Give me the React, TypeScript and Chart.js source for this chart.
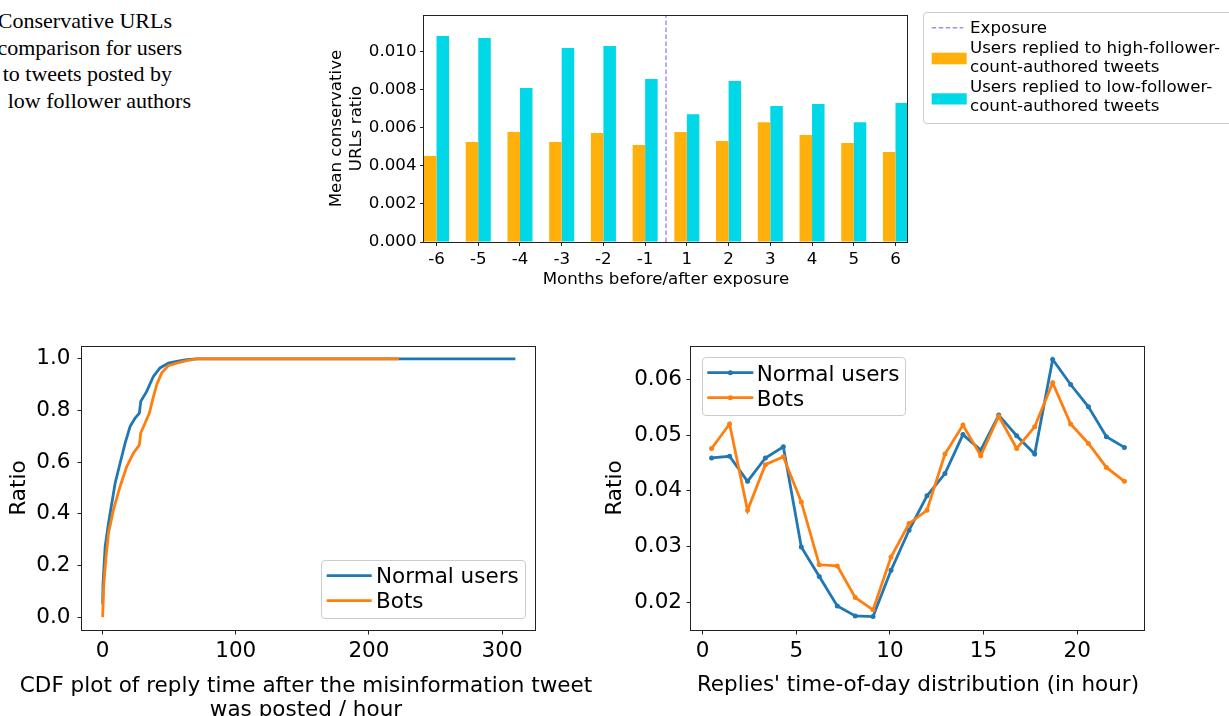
import React, { useEffect, useRef } from 'react';
import { Chart, registerables } from 'chart.js';

Chart.register(...registerables);

// ---------------- data ----------------
const months = ['-6', '-5', '-4', '-3', '-2', '-1', '1', '2', '3', '4', '5', '6'];
const highFollowerRatio = [0.00452, 0.00525, 0.00578, 0.00525, 0.00573, 0.0051, 0.00578, 0.00531, 0.0063, 0.00562, 0.0052, 0.00473];
const lowFollowerRatio = [0.01082, 0.01072, 0.00809, 0.01019, 0.0103, 0.00856, 0.00672, 0.00846, 0.00715, 0.00725, 0.0063, 0.0073];
const exposurePosition = 5.5;
const barSeriesLabels = ['Exposure', 'Users replied to high-follower-count-authored tweets', 'Users replied to low-follower-count-authored tweets'];

const cdfNormalHours = [0, 0.3, 1.9, 4.4, 6.9, 9.4, 13.1, 16.9, 20.6, 24.4, 27.6, 28.6, 33.1, 38.1, 43.1, 49.4, 55.6, 63.1, 70.7, 310];
const cdfNormalRatio = [0.05, 0.13, 0.273, 0.364, 0.441, 0.519, 0.596, 0.674, 0.738, 0.771, 0.79, 0.835, 0.874, 0.932, 0.965, 0.984, 0.99, 0.997, 1.0, 1.0];
const cdfBotsHours = [0, 0.9, 2.6, 4.4, 8.1, 13.1, 18.1, 23.1, 27.6, 28.6, 31.9, 35.1, 37.6, 40.6, 44.4, 49.4, 55.6, 63.1, 70.7, 222.5];
const cdfBotsRatio = [0, 0.13, 0.234, 0.325, 0.415, 0.506, 0.583, 0.635, 0.667, 0.713, 0.752, 0.79, 0.842, 0.9, 0.946, 0.974, 0.984, 0.993, 1.0, 1.0];
const cdfTitleLines = ['CDF plot of reply time after the misinformation tweet', 'was posted / hour'];

const hourBins = [0.48, 1.44, 2.4, 3.35, 4.31, 5.27, 6.23, 7.19, 8.15, 9.1, 10.06, 11.02, 11.98, 12.94, 13.9, 14.85, 15.81, 16.77, 17.73, 18.69, 19.65, 20.6, 21.56, 22.52];
const todNormal = [0.0459, 0.0462, 0.0417, 0.0459, 0.0479, 0.0299, 0.0246, 0.0193, 0.0175, 0.0174, 0.0257, 0.0329, 0.0391, 0.0431, 0.0501, 0.0473, 0.0536, 0.0499, 0.0466, 0.0636, 0.0591, 0.0551, 0.0497, 0.0478];
const todBots = [0.0476, 0.052, 0.0365, 0.0447, 0.0461, 0.038, 0.0267, 0.0265, 0.0208, 0.0186, 0.0281, 0.0341, 0.0365, 0.0466, 0.0518, 0.0463, 0.0534, 0.0476, 0.0515, 0.0594, 0.052, 0.0485, 0.0442, 0.0417];
const lineSeriesLabels = ['Normal users', 'Bots'];

const captionLines = ['Conservative URLs', 'comparison for users', 'to tweets posted by', 'low follower authors'];

// ---------------- styles ----------------
const SANS = 'DejaVu Sans';
const SERIF = 'Liberation Serif';
const TOP_FONT = 16.67;
const BOTTOM_FONT = 21.5;
const BLUE = '#1f77b4';
const ORANGE = '#ff7f0e';
const BAR_ORANGE = '#ffb00b';
const BAR_CYAN = '#00d7e7';
const EXPOSURE_COLOR = '#9e90f4';
const AXIS_COLOR = '#222222';

const BAR_Y_MAX = 0.01193;

const framePlugin = {
  id: 'frame',
  afterDatasetsDraw(chart: any) {
    const { ctx, chartArea: a } = chart;
    ctx.save();
    ctx.strokeStyle = AXIS_COLOR;
    ctx.lineWidth = 1;
    const l = Math.round(a.left) - 0.5;
    const t = Math.round(a.top) + 0.5;
    const r = Math.round(a.right) - 0.5;
    const b = Math.round(a.bottom) + 0.5;
    ctx.strokeRect(l, t, r - l, b - t);
    ctx.restore();
  },
};

const tickGrid = (len: number) => ({
  offset: false,
  drawOnChartArea: false,
  drawTicks: true,
  tickLength: len,
  color: AXIS_COLOR,
  lineWidth: 1,
});

function barConfig(): any {
  const font = { family: SANS, size: TOP_FONT };
  return {
    type: 'bar',
    data: {
      datasets: [
        {
          type: 'line',
          label: barSeriesLabels[0],
          data: [
            { x: exposurePosition, y: 0 },
            { x: exposurePosition, y: BAR_Y_MAX },
          ],
          borderColor: EXPOSURE_COLOR,
          borderWidth: 1.5,
          borderDash: [4.5, 2.5],
          pointRadius: 0,
          order: 0,
        },
        {
          label: barSeriesLabels[1],
          data: months.map((_, i) => ({ x: i, y: highFollowerRatio[i] })),
          backgroundColor: BAR_ORANGE,
          borderWidth: 0,
          categoryPercentage: 0.6,
          barPercentage: 1,
          order: 1,
        },
        {
          label: barSeriesLabels[2],
          data: months.map((_, i) => ({ x: i, y: lowFollowerRatio[i] })),
          backgroundColor: BAR_CYAN,
          borderWidth: 0,
          categoryPercentage: 0.6,
          barPercentage: 1,
          order: 1,
        },
      ],
    },
    options: {
      responsive: false,
      animation: false,
      devicePixelRatio: 1,
      layout: { padding: { left: 0, right: 12, top: 15, bottom: 0 } },
      plugins: { legend: { display: false }, tooltip: { enabled: false } },
      scales: {
        x: {
          type: 'linear',
          min: -0.3,
          max: 11.3,
          offset: false,
          grid: tickGrid(4),
          border: { display: false },
          ticks: {
            stepSize: 1,
            includeBounds: false,
            autoSkip: false,
            maxRotation: 0,
            padding: 4,
            color: '#000',
            font,
            callback: (v: any) => months[Math.round(Number(v))] ?? '',
          },
          title: {
            display: true,
            text: 'Months before/after exposure',
            color: '#000',
            font: { ...font, lineHeight: 1.2 },
            padding: { top: 0, bottom: 10 },
          },
          afterFit: (s: any) => {
            s.height = 58;
          },
        },
        y: {
          min: 0,
          max: BAR_Y_MAX,
          grid: tickGrid(4),
          border: { display: false },
          ticks: {
            stepSize: 0.002,
            includeBounds: false,
            padding: 3.5,
            color: '#000',
            font,
            callback: (v: any) => Number(v).toFixed(3),
          },
          title: {
            display: true,
            text: ['Mean conservative', 'URLs ratio'],
            color: '#000',
            font: { ...font, lineHeight: 1.17 },
            padding: { top: 27, bottom: 0 },
          },
          afterFit: (s: any) => {
            s.width = 124;
          },
        },
      },
    },
    plugins: [framePlugin],
  };
}

function cdfConfig(): any {
  const font = { family: SANS, size: BOTTOM_FONT };
  return {
    type: 'line',
    data: {
      datasets: [
        {
          label: lineSeriesLabels[0],
          data: cdfNormalHours.map((h, i) => ({ x: h, y: cdfNormalRatio[i] })),
          borderColor: BLUE,
          borderWidth: 2.8,
          pointRadius: 0,
          tension: 0,
          fill: false,
          order: 2,
        },
        {
          label: lineSeriesLabels[1],
          data: cdfBotsHours.map((h, i) => ({ x: h, y: cdfBotsRatio[i] })),
          borderColor: ORANGE,
          borderWidth: 2.8,
          pointRadius: 0,
          tension: 0,
          fill: false,
          order: 1,
        },
      ],
    },
    options: {
      responsive: false,
      animation: false,
      devicePixelRatio: 1,
      layout: { padding: { left: 0, right: 24, top: 26, bottom: 0 } },
      plugins: { legend: { display: false }, tooltip: { enabled: false } },
      scales: {
        x: {
          type: 'linear',
          min: -15.5,
          max: 325.5,
          grid: tickGrid(4.5),
          border: { display: false },
          ticks: { stepSize: 100, includeBounds: false, maxRotation: 0, padding: 4.5, color: '#000', font },
          title: { display: false },
          afterFit: (s: any) => {
            s.height = 100;
          },
        },
        y: {
          min: -0.05,
          max: 1.05,
          grid: tickGrid(4.5),
          border: { display: false },
          ticks: {
            stepSize: 0.2,
            includeBounds: false,
            padding: 7,
            color: '#000',
            font,
            callback: (v: any) => Number(v).toFixed(1),
          },
          title: {
            display: true,
            text: 'Ratio',
            color: '#000',
            font: { ...font, lineHeight: 1.12 },
            padding: { top: 7, bottom: 0 },
          },
          afterFit: (s: any) => {
            s.width = 82;
          },
        },
      },
    },
    plugins: [framePlugin],
  };
}

function todConfig(): any {
  const font = { family: SANS, size: BOTTOM_FONT };
  return {
    type: 'line',
    data: {
      datasets: [
        {
          label: lineSeriesLabels[0],
          data: hourBins.map((h, i) => ({ x: h, y: todNormal[i] })),
          borderColor: BLUE,
          backgroundColor: BLUE,
          borderWidth: 2.8,
          pointRadius: 2.5,
          pointBorderWidth: 0,
          tension: 0,
          fill: false,
          order: 2,
        },
        {
          label: lineSeriesLabels[1],
          data: hourBins.map((h, i) => ({ x: h, y: todBots[i] })),
          borderColor: ORANGE,
          backgroundColor: ORANGE,
          borderWidth: 2.8,
          pointRadius: 2.5,
          pointBorderWidth: 0,
          tension: 0,
          fill: false,
          order: 1,
        },
      ],
    },
    options: {
      responsive: false,
      animation: false,
      devicePixelRatio: 1,
      layout: { padding: { left: 0, right: 84, top: 26, bottom: 0 } },
      plugins: { legend: { display: false }, tooltip: { enabled: false } },
      scales: {
        x: {
          type: 'linear',
          min: -0.62,
          max: 23.62,
          grid: tickGrid(4.5),
          border: { display: false },
          ticks: { stepSize: 5, includeBounds: false, maxRotation: 0, padding: 4.5, color: '#000', font },
          title: {
            display: true,
            text: "Replies' time-of-day distribution (in hour)",
            color: '#000',
            font: { ...font, lineHeight: 1.12 },
            padding: { top: 0, bottom: 33 },
          },
          afterFit: (s: any) => {
            s.height = 100;
          },
        },
        y: {
          min: 0.01498,
          max: 0.06602,
          grid: tickGrid(4.5),
          border: { display: false },
          ticks: {
            stepSize: 0.01,
            includeBounds: false,
            padding: 4.5,
            color: '#000',
            font,
            callback: (v: any) => Number(v).toFixed(2),
          },
          title: {
            display: true,
            text: 'Ratio',
            color: '#000',
            font: { ...font, lineHeight: 1.12 },
            padding: { top: 3, bottom: 0 },
          },
          afterFit: (s: any) => {
            s.width = 91;
          },
        },
      },
    },
    plugins: [framePlugin],
  };
}

// ---------------- html helpers ----------------
function Label(props: { x: number; baseline: number; size: number; family?: string; asc?: number; children: any }) {
  const { x, baseline, size, family = SANS, asc = 0.846, children } = props;
  return (
    <div
      style={{
        position: 'absolute',
        left: x,
        top: baseline - asc * size,
        fontFamily: family,
        fontSize: size,
        lineHeight: `${size}px`,
        whiteSpace: 'nowrap',
        color: '#000',
      }}
    >
      {children}
    </div>
  );
}

function CenteredLabel(props: { cx: number; baseline: number; size: number; children: any }) {
  const { cx, baseline, size, children } = props;
  return (
    <div
      style={{
        position: 'absolute',
        left: cx - 400,
        width: 800,
        top: baseline - 0.846 * size,
        fontFamily: SANS,
        fontSize: size,
        lineHeight: `${size}px`,
        whiteSpace: 'nowrap',
        textAlign: 'center',
        color: '#000',
      }}
    >
      {children}
    </div>
  );
}

function CaptionLine(props: { right: number; baseline: number; children: any }) {
  const size = 22;
  return (
    <div
      style={{
        position: 'absolute',
        right: 1229 - props.right,
        top: props.baseline - 0.8375 * size,
        fontFamily: SERIF,
        fontSize: size,
        lineHeight: `${size}px`,
        whiteSpace: 'nowrap',
        textAlign: 'right',
        color: '#000',
      }}
    >
      {props.children}
    </div>
  );
}

const boxStyle = (l: number, t: number, w: number, h: number): React.CSSProperties => ({
  position: 'absolute',
  left: l,
  top: t,
  width: w,
  height: h,
  border: '1px solid #cccccc',
  borderRadius: 4,
  background: 'rgba(255,255,255,0.85)',
  boxSizing: 'border-box',
});

export default function App() {
  const barRef = useRef<HTMLCanvasElement>(null);
  const cdfRef = useRef<HTMLCanvasElement>(null);
  const todRef = useRef<HTMLCanvasElement>(null);

  useEffect(() => {
    const charts = [
      new Chart(barRef.current as HTMLCanvasElement, barConfig()),
      new Chart(cdfRef.current as HTMLCanvasElement, cdfConfig()),
      new Chart(todRef.current as HTMLCanvasElement, todConfig()),
    ];
    return () => charts.forEach((c) => c.destroy());
  }, []);

  const hl = (s: string) => s.replace('-count-authored tweets', '-');

  return (
    <div
      style={{
        position: 'fixed',
        left: 0,
        top: 0,
        width: 1229,
        height: 716,
        overflow: 'hidden',
        background: '#fff',
      }}
    >
      {/* caption text (cropped in the original) */}
      <CaptionLine right={172} baseline={28.3}>{captionLines[0]}</CaptionLine>
      <CaptionLine right={182} baseline={55}>{captionLines[1]}</CaptionLine>
      <CaptionLine right={172} baseline={81.7}>{captionLines[2]}</CaptionLine>
      <CaptionLine right={191} baseline={108.3}>{captionLines[3]}</CaptionLine>

      <canvas ref={barRef} width={620} height={300} style={{ position: 'absolute', left: 300, top: 0 }} />
      <canvas ref={cdfRef} width={560} height={410} style={{ position: 'absolute', left: 0, top: 320 }} />
      <canvas ref={todRef} width={629} height={410} style={{ position: 'absolute', left: 600, top: 320 }} />

      {/* CDF x-axis title (two lines) */}
      <CenteredLabel cx={306} baseline={692.5} size={BOTTOM_FONT}>{cdfTitleLines[0]}</CenteredLabel>
      <CenteredLabel cx={306} baseline={716.5} size={BOTTOM_FONT}>{cdfTitleLines[1]}</CenteredLabel>

      {/* legend frames */}
      <div style={boxStyle(923, 12, 330, 112)} />
      <div style={boxStyle(321, 560, 205, 59)} />
      <div style={boxStyle(702, 357, 204, 59)} />

      <svg
        width={1229}
        height={716}
        style={{ position: 'absolute', left: 0, top: 0, pointerEvents: 'none' }}
      >
        <line x1={931.7} x2={963.3} y1={27.7} y2={27.7} stroke={EXPOSURE_COLOR} strokeWidth={1.5} strokeDasharray="4.5 2.5" />
        <rect x={931.7} y={52.7} width={35} height={11.6} fill={BAR_ORANGE} />
        <rect x={931.7} y={93.3} width={35} height={11.2} fill={BAR_CYAN} />

        <line x1={326.7} x2={371.7} y1={575.7} y2={575.7} stroke={BLUE} strokeWidth={2.8} />
        <line x1={326.7} x2={371.7} y1={600.7} y2={600.7} stroke={ORANGE} strokeWidth={2.8} />

        <line x1={707.3} x2={753.3} y1={372.7} y2={372.7} stroke={BLUE} strokeWidth={2.8} />
        <circle cx={730.3} cy={372.7} r={2.5} fill={BLUE} />
        <line x1={707.3} x2={753.3} y1={397.7} y2={397.7} stroke={ORANGE} strokeWidth={2.8} />
        <circle cx={730.3} cy={397.7} r={2.5} fill={ORANGE} />
      </svg>

      {/* top legend text */}
      <Label x={970} baseline={34} size={TOP_FONT}>{barSeriesLabels[0]}</Label>
      <Label x={970} baseline={54.3} size={TOP_FONT}>{hl(barSeriesLabels[1])}</Label>
      <Label x={970} baseline={73.3} size={TOP_FONT}>count-authored tweets</Label>
      <Label x={970} baseline={93.3} size={TOP_FONT}>{hl(barSeriesLabels[2])}</Label>
      <Label x={970} baseline={112.5} size={TOP_FONT}>count-authored tweets</Label>

      {/* CDF legend text */}
      <Label x={376} baseline={583.3} size={BOTTOM_FONT}>{lineSeriesLabels[0]}</Label>
      <Label x={376} baseline={608.3} size={BOTTOM_FONT}>{lineSeriesLabels[1]}</Label>

      {/* time-of-day legend text */}
      <Label x={756.7} baseline={380.7} size={BOTTOM_FONT}>{lineSeriesLabels[0]}</Label>
      <Label x={756.7} baseline={406} size={BOTTOM_FONT}>{lineSeriesLabels[1]}</Label>
    </div>
  );
}
